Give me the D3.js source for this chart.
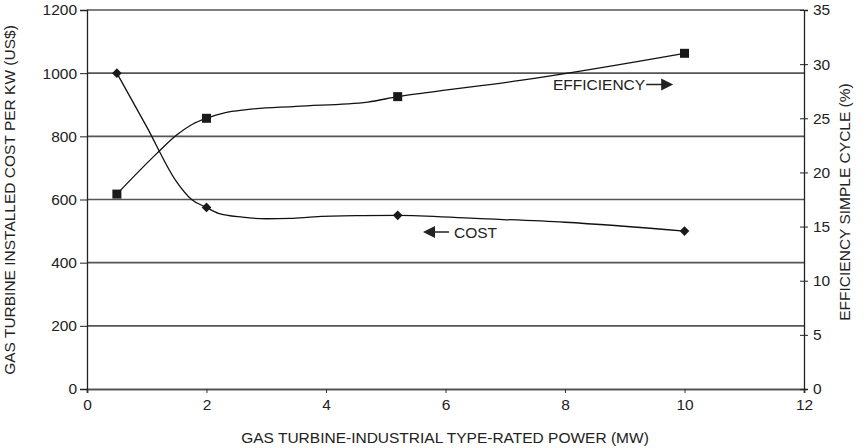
<!DOCTYPE html>
<html><head><meta charset="utf-8">
<script src="https://cdn.jsdelivr.net/npm/d3@7"></script>
<style>body{margin:0;background:#fff}svg text{font-family:"Liberation Sans",Arial,sans-serif;fill:#222}</style>
</head><body>
<script>
// Marker data points
const markerPower = [0.5, 2, 5.2, 10];
const costValues = [1000, 575, 550, 500];
const efficiencyValues = [18, 25, 27, 31];
// Smoothed line traces
const costCurvePower = [0.5, 1.0, 1.5, 1.75, 2, 2.2, 2.6, 3.0, 3.4, 3.8, 4.6, 5.2, 6.5, 8, 10];
const costCurveValues = [1000, 830, 656, 600, 575, 556, 544, 539, 540, 545, 549, 550, 540, 528, 500];
const effCurvePower = [0.5, 1.17, 1.5, 1.78, 2, 2.3, 2.67, 3.5, 4.7, 5.2, 5.65, 7.25, 10];
const effCurveValues = [18, 21.76, 23.45, 24.5, 25, 25.5, 25.8, 26.1, 26.5, 27, 27.35, 28.5, 31];
const xTicks = [0, 2, 4, 6, 8, 10, 12];
const leftTicks = [0, 200, 400, 600, 800, 1000, 1200];
const rightTicks = [0, 5, 10, 15, 20, 25, 30, 35];

const W = 866, H = 448;
const svg = d3.select("body").append("svg").attr("width", W).attr("height", H);
const x = d3.scaleLinear().domain([0, 12]).range([87, 804]);
const yL = d3.scaleLinear().domain([0, 1200]).range([389, 10]);
const yR = d3.scaleLinear().domain([0, 35]).range([389, 10]);
const FS = "15.5px";

// gridlines
svg.append("g").selectAll("line").data(leftTicks.filter(d => d > 0)).join("line")
  .attr("x1", x(0)).attr("x2", x(12)).attr("y1", d => yL(d)).attr("y2", d => yL(d))
  .attr("stroke", "#555").attr("stroke-width", 1.6);

// bottom axis
const gx = svg.append("g").attr("transform", `translate(0,${yL(0)})`)
  .call(d3.axisBottom(x).tickValues(xTicks).tickFormat(d3.format("d")).tickSize(4).tickPadding(6));
gx.select(".domain").attr("stroke", "#555").attr("stroke-width", 2);
gx.selectAll(".tick line").attr("stroke", "#333");
gx.selectAll("text").style("font-size", FS).attr("fill", "#222");

// left axis
const gl = svg.append("g").attr("transform", `translate(${x(0)},0)`)
  .call(d3.axisLeft(yL).tickValues(leftTicks).tickFormat(d3.format("d")).tickSize(7).tickPadding(3));
gl.select(".domain").attr("stroke", "#222").attr("stroke-width", 1.3);
gl.selectAll(".tick line").attr("stroke", "#222");
gl.selectAll("text").style("font-size", FS).attr("fill", "#222");

// right axis
const gr = svg.append("g").attr("transform", `translate(${x(12)},0)`)
  .call(d3.axisRight(yR).tickValues(rightTicks).tickFormat(d3.format("d")).tickSize(4).tickPadding(5));
gr.select(".domain").attr("stroke", "#222").attr("stroke-width", 1.3);
gr.selectAll(".tick line").attr("x1", -4).attr("x2", 4).attr("stroke", "#222");
gr.selectAll("text").style("font-size", FS).attr("fill", "#222");

// lines
const costLine = d3.line().x((d, i) => x(costCurvePower[i])).y(d => yL(d)).curve(d3.curveMonotoneX);
const effLine = d3.line().x((d, i) => x(effCurvePower[i])).y(d => yR(d)).curve(d3.curveMonotoneX);
svg.append("path").attr("d", costLine(costCurveValues)).attr("fill", "none").attr("stroke", "#111").attr("stroke-width", 1.3);
svg.append("path").attr("d", effLine(effCurveValues)).attr("fill", "none").attr("stroke", "#111").attr("stroke-width", 1.3);

// markers
svg.append("g").selectAll("path").data(costValues).join("path")
  .attr("d", d3.symbol(d3.symbolDiamond2, 60)())
  .attr("transform", (d, i) => `translate(${x(markerPower[i])},${yL(d)})`).attr("fill", "#1a1a1a");
svg.append("g").selectAll("rect").data(efficiencyValues).join("rect")
  .attr("x", (d, i) => x(markerPower[i]) - 4.5).attr("y", d => yR(d) - 4.5)
  .attr("width", 9).attr("height", 9).attr("fill", "#1a1a1a");

// annotations
const effT = svg.append("text").attr("x", 553).attr("y", 90).style("font-size", FS).text("EFFICIENCY");
const ex = 553 + effT.node().getComputedTextLength() + 1;
svg.append("line").attr("x1", ex).attr("x2", ex + 16).attr("y1", 84.5).attr("y2", 84.5).attr("stroke", "#222").attr("stroke-width", 1.5);
svg.append("path").attr("d", `M${ex + 15},78.5 L${ex + 27},84.5 L${ex + 15},90.5 Z`).attr("fill", "#222");

svg.append("path").attr("d", "M423,232 L435,226 L435,238 Z").attr("fill", "#222");
svg.append("line").attr("x1", 434).attr("x2", 449).attr("y1", 232).attr("y2", 232).attr("stroke", "#222").attr("stroke-width", 1.5);
svg.append("text").attr("x", 454).attr("y", 237.5).style("font-size", FS).text("COST");

// axis titles
svg.append("text").attr("x", 445).attr("y", 443).attr("text-anchor", "middle").style("font-size", FS)
  .text("GAS TURBINE-INDUSTRIAL TYPE-RATED POWER (MW)");
svg.append("text").attr("transform", "translate(15,200) rotate(-90)").attr("text-anchor", "middle").style("font-size", FS)
  .text("GAS TURBINE INSTALLED COST PER KW (US$)");
svg.append("text").attr("transform", "translate(850,202) rotate(-90)").attr("text-anchor", "middle").style("font-size", FS)
  .text("EFFICIENCY SIMPLE CYCLE (%)");
</script>
</body></html>
